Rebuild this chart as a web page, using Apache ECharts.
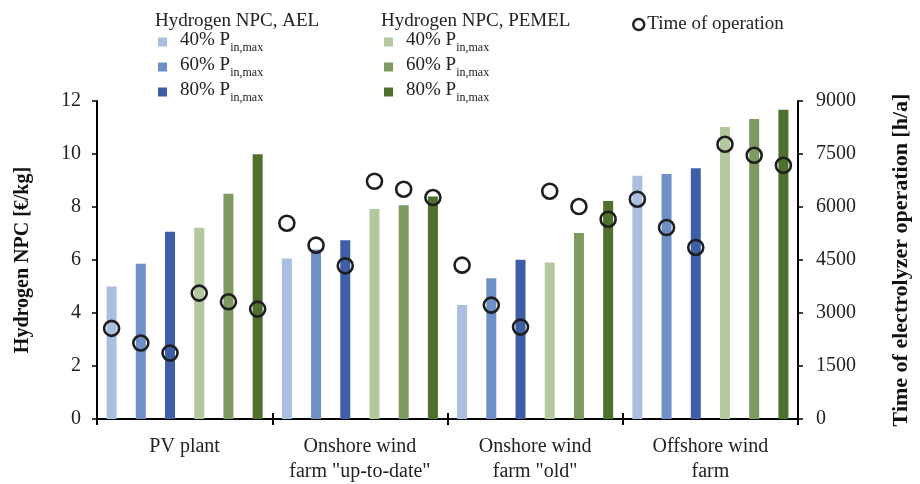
<!DOCTYPE html>
<html>
<head>
<meta charset="utf-8">
<script src="https://cdn.jsdelivr.net/npm/echarts@6/dist/echarts.min.js"></script>
<style>html,body{margin:0;padding:0;background:#fff}#c{width:920px;height:484px}</style>
</head>
<body>
<div id="c"></div>
<script>
// ---- data ----
const categories = ['PV plant', 'Onshore wind\nfarm "up-to-date"', 'Onshore wind\nfarm "old"', 'Offshore wind\nfarm'];
const seriesNames = ['AEL 40%', 'AEL 60%', 'AEL 80%', 'PEMEL 40%', 'PEMEL 60%', 'PEMEL 80%'];
const seriesShort = ['40%', '60%', '80%', '40%', '60%', '80%'];
const npcAel40 = [5.0, 6.06, 4.30, 9.18];
const npcAel60 = [5.86, 6.4, 5.31, 9.25];
const npcAel80 = [7.07, 6.75, 6.01, 9.46];
const npcPem40 = [7.22, 7.92, 5.91, 11.02];
const npcPem60 = [8.5, 8.07, 7.02, 11.32];
const npcPem80 = [9.99, 8.4, 8.23, 11.67];
const timeAel40 = [2565, 5542, 4354, 6220];
const timeAel60 = [2149, 4920, 3223, 5420];
const timeAel80 = [1866, 4335, 2601, 4855];
const timePem40 = [3563, 6729, 6447, 7775];
const timePem60 = [3317, 6503, 6013, 7464];
const timePem80 = [3110, 6268, 5655, 7181];
const leftTicks = [0, 2, 4, 6, 8, 10, 12];
const rightTicks = [0, 1500, 3000, 4500, 6000, 7500, 9000];

const colors = ['#a9bee0', '#6f8fc8', '#3f5ea8', '#b4c8a0', '#7f9a60', '#4f702c'];
const npcAll = [npcAel40, npcAel60, npcAel80, npcPem40, npcPem60, npcPem80];
const timeAll = [timeAel40, timeAel60, timeAel80, timePem40, timePem60, timePem80];

// fine slots: each category x each series
const slots = [];
categories.forEach((c, ci) => seriesNames.forEach((s, si) => slots.push(ci + '|' + si)));

const FONT = '"Liberation Serif", "Times New Roman", serif';
const barSeries = seriesNames.map((name, si) => ({
  name, type: 'bar', xAxisIndex: 0, yAxisIndex: 0, stack: 'npc', barWidth: 10,
  itemStyle: { color: colors[si] },
  data: slots.map(k => { const [ci, s] = k.split('|').map(Number); return s === si ? npcAll[si][ci] : '-'; })
}));
const scatterData = slots.map(k => { const [ci, s] = k.split('|').map(Number); return timeAll[s][ci]; });

const legendFmt = name => '{n|' + seriesShort[seriesNames.indexOf(name)] + ' P}{s|in,max}';
const legendRich = {
  n: { fontFamily: FONT, fontSize: 19, color: '#222', lineHeight: 22, verticalAlign: 'top', padding: [0, 0, 0, 8] },
  s: { fontFamily: FONT, fontSize: 12, color: '#222', lineHeight: 12, verticalAlign: 'top', padding: [11, 0, 0, 0] }
};

const chart = echarts.init(document.getElementById('c'));
chart.setOption({
  animation: false,
  backgroundColor: '#fff',
  grid: { left: 97, right: 114, top: 101, bottom: 64 },
  graphic: [
    { type: 'text', left: 155, top: 12, style: { text: 'Hydrogen NPC, AEL', font: '19px ' + FONT, fill: '#222' } },
    { type: 'text', left: 381, top: 12, style: { text: 'Hydrogen NPC, PEMEL', font: '19px ' + FONT, fill: '#222' } }
  ],
  legend: [
    { data: seriesNames.slice(0, 3), orient: 'vertical', left: 153, top: 26, icon: 'rect', itemWidth: 9, itemHeight: 9, itemGap: 2,
      formatter: legendFmt, textStyle: { rich: legendRich }, selectedMode: false },
    { data: seriesNames.slice(3, 6), orient: 'vertical', left: 379, top: 26, icon: 'rect', itemWidth: 9, itemHeight: 9, itemGap: 2,
      formatter: legendFmt, textStyle: { rich: legendRich }, selectedMode: false },
    { data: ['Time of operation'], left: 627, top: 10, icon: 'circle', itemWidth: 11, itemHeight: 11,
      itemStyle: { color: 'rgba(0,0,0,0)', borderColor: '#222', borderWidth: 2.5 },
      textStyle: { fontFamily: FONT, fontSize: 19, color: '#222', padding: [0, 0, 0, -2] }, selectedMode: false }
  ],
  xAxis: [
    { type: 'category', data: slots, show: false, gridIndex: 0 },
    { type: 'category', data: categories, position: 'bottom', gridIndex: 0,
      axisLine: { lineStyle: { color: '#000', width: 2 } },
      axisTick: { show: true, length: 6, inside: false, lineStyle: { color: '#000', width: 2 } },
      axisLabel: { interval: 0, fontFamily: FONT, fontSize: 20, color: '#222', lineHeight: 25, margin: 15 } },
    { type: 'category', data: categories, position: 'bottom', gridIndex: 0,
      axisLine: { show: false },
      axisTick: { show: true, length: 6, inside: true, lineStyle: { color: '#000', width: 2 } },
      axisLabel: { show: false } }
  ],
  yAxis: [
    { type: 'value', position: 'left', min: leftTicks[0], max: leftTicks[leftTicks.length - 1], interval: 2,
      name: 'Hydrogen NPC [€/kg]', nameLocation: 'middle', nameGap: 64, nameRotate: 90,
      nameTextStyle: { fontFamily: FONT, fontSize: 20, fontWeight: 'bold', color: '#111' },
      axisLine: { show: true, lineStyle: { color: '#000', width: 2 } },
      axisTick: { show: true, length: 5, lineStyle: { color: '#000', width: 1.5 } },
      splitLine: { show: false },
      axisLabel: { fontFamily: FONT, fontSize: 20, color: '#222', margin: 16 } },
    { type: 'value', position: 'right', min: rightTicks[0], max: rightTicks[rightTicks.length - 1], interval: 1500,
      name: 'Time of electrolyzer operation [h/a]', nameLocation: 'middle', nameGap: 92, nameRotate: 90,
      nameTextStyle: { fontFamily: FONT, fontSize: 22, fontWeight: 'bold', color: '#111' },
      axisLine: { show: true, lineStyle: { color: '#000', width: 2 } },
      axisTick: { show: true, length: 5, lineStyle: { color: '#000', width: 1.5 } },
      splitLine: { show: false },
      axisLabel: { fontFamily: FONT, fontSize: 20, color: '#222', margin: 18, formatter: v => String(v) } }
  ],
  series: barSeries.concat([{
    name: 'Time of operation', type: 'scatter', xAxisIndex: 0, yAxisIndex: 1, symbol: 'circle', symbolSize: 15, z: 5,
    itemStyle: { color: 'rgba(0,0,0,0)', borderColor: '#1e1e1e', borderWidth: 2.6, opacity: 1 },
    data: scatterData
  }])
});
</script>
</body>
</html>
